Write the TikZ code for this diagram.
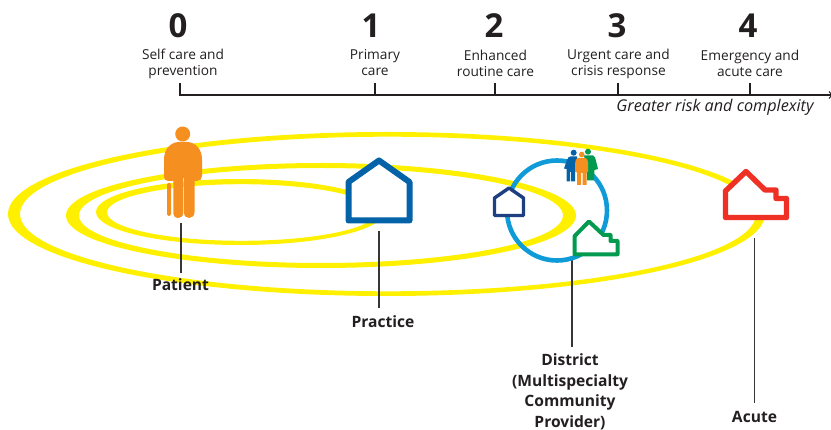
\documentclass[tikz,border=0pt]{standalone}
\usepackage{fontspec}
\setmainfont{Open Sans}
\definecolor{ring}{HTML}{FFF000}
\definecolor{pOrange}{HTML}{F58F20}
\definecolor{pBlue}{HTML}{0462A8}
\definecolor{pNavy}{HTML}{1E3F80}
\definecolor{pCyan}{HTML}{0F9BD7}
\definecolor{pGreen}{HTML}{019A4E}
\definecolor{pRed}{HTML}{EE3124}
\definecolor{ink}{HTML}{231F20}
\tikzset{
  levelnum/.style={font=\fontsize{33}{33}\selectfont\bfseries,text=ink,inner sep=0pt,anchor=center},
  levelcap/.style={font=\fontsize{13.7}{16}\selectfont,text=ink,inner sep=0pt,align=center,anchor=center},
  who/.style={font=\fontsize{15.6}{20.5}\selectfont\bfseries,text=ink,inner sep=0pt,align=center,anchor=center},
  axisline/.style={draw=ink,line width=2.2pt},
  leader/.style={draw=ink!90,line width=1.2pt},
  house/.style={fill=white,line join=round},
  crescent/.style={fill=ring,even odd rule,draw=none}
}
\begin{document}
\begin{tikzpicture}[x=1pt,y=-1pt]
\useasboundingbox (0,0) rectangle (831,430);
% rings
\fill[crescent] (386.5,214) ellipse [x radius=378.5,y radius=82] (388,214) ellipse [x radius=368,y radius=77.3];
\fill[crescent] (321,215.5) ellipse [x radius=255,y radius=52.5] (321,215.5) ellipse [x radius=242,y radius=47.5];
\fill[crescent] (240,212) ellipse [x radius=144,y radius=33] (241.5,212.5) ellipse [x radius=134.5,y radius=28.3];
% axis
\coordinate (a0) at (180,95);
\coordinate (aEnd) at (832,95);
\coordinate (tipA) at (829,91.5);
\coordinate (tipB) at (829,98.5);
\foreach \n/\x in {t0/180,t1/375,t2/495,t3/618,t4/750}{\coordinate (\n) at (\x,83);\coordinate (\n b) at (\x,95);\draw[axisline] (\n) -- (\n b);}
\draw[axisline,line cap=rect] (a0) -- (aEnd);
\draw[ink,line width=1pt] (tipA) -- (aEnd) -- (tipB);
\node[levelnum] (n0) at (178,26) {0};
\node[levelnum] (n1) at (371,26) {1};
\node[levelnum] (n2) at (494,26) {2};
\node[levelnum] (n3) at (617,26) {3};
\node[levelnum] (n4) at (748,26) {4};
\node[levelcap] (c0) at (183,63.5) {Self care and\\prevention};
\node[levelcap] (c1) at (375,63) {Primary\\care};
\node[levelcap] (c2) at (495.5,63.5) {Enhanced\\routine care};
\node[levelcap] (c3) at (618.5,63.5) {Urgent care and\\crisis response};
\node[levelcap] (c4) at (750,63.5) {Emergency and\\acute care};
\node[font=\fontsize{16.2}{18}\selectfont\itshape,text=ink,inner sep=0pt] (risk) at (715,107.5) {Greater risk and complexity};
% leaders
\coordinate (l1a) at (181,223); \coordinate (l1b) at (181,273);
\coordinate (l2a) at (379,231); \coordinate (l2b) at (379,308);
\coordinate (l3a) at (572,256); \coordinate (l3b) at (572,347);
\coordinate (l4a) at (754.5,238); \coordinate (l4b) at (754.5,403);
\draw[leader] (l1a) -- (l1b);
\draw[leader] (l2a) -- (l2b);
\draw[leader] (l3a) -- (l3b);
\draw[leader] (l4a) -- (l4b);
\node[who] (patient) at (180.5,285) {Patient};
\node[who] (practice) at (383,322) {Practice};
\node[who] (district) at (570,392) {District\\(Multispecialty\\Community\\Provider)};
\node[who] (acute) at (754.5,417) {Acute};
% circle
\draw[pCyan,line width=4.6pt] (557,210.5) circle (50);
% houses
\draw[house,draw=pBlue,line width=6pt] (379,160.5) -- (409.5,182) -- (409.5,220.5) -- (348.5,220.5) -- (348.5,182) -- cycle;
\draw[house,draw=pNavy,line width=3.4pt] (509,188) -- (523.5,198) -- (523.5,215.5) -- (494.5,215.5) -- (494.5,198) -- cycle;
\draw[house,draw=pGreen,line width=4pt] (589,221.5) -- (603.5,235) -- (610.5,235) -- (610.5,241) -- (617.5,241) -- (617.5,254.3) -- (574.7,254.3) -- (574.7,236) -- cycle;
\draw[house,draw=pRed,line width=5.4pt] (746,171.5) -- (765,190) -- (776,190) -- (776,198.5) -- (786.5,198.5) -- (786.5,217.5) -- (725.5,217.5) -- (725.5,191) -- cycle;
% patient figure
\fill[pOrange] (182.7,134) circle (7.5);
\fill[pOrange,rounded corners=1.5pt] (167,183) rectangle (171,216);
\fill[pOrange] (173.3,181) -- (168,181) .. controls (165,181) and (164,179) .. (164,176) -- (164,160) .. controls (164,149) and (170,143) .. (178,142) -- (188,142) .. controls (196,143) and (202,149) .. (202,160) -- (202,176) .. controls (202,179) and (200,181) .. (197,181) -- (194.5,181) -- (194.5,212) .. controls (194.5,216) and (192,218) .. (189,218) .. controls (186,218) and (184,216) .. (184,212) -- (184,178) -- (183.4,178) -- (183.4,212) .. controls (183.4,216) and (181,218) .. (178.5,218) .. controls (175,218) and (173.3,216) .. (173.3,212) -- cycle;
% small group
\fill[pGreen] (588,151.7) circle (3);
\fill[pGreen] (584,155.5) -- (593,155.5) .. controls (595,156) and (595.5,158) .. (596,161) -- (598,169) -- (594.5,170) -- (594,180.5) -- (587,180.5) -- (587,170) -- cycle;
\fill[pBlue] (573.7,152.7) circle (3);
\fill[pBlue] (570.5,156.5) -- (577,156.5) -- (577,171) -- (575,171) -- (575,181.5) -- (571,181.5) -- (571,172) -- (570,172) -- (570,181.5) -- (566.5,181.5) -- (566.5,169) -- (564,168.5) -- (567,160) .. controls (568,157.5) and (569,156.5) .. (570.5,156.5) -- cycle;
\fill[pOrange] (581.7,154.5) circle (2.8);
\fill[pOrange] (578,158) -- (585.5,158) .. controls (587,158.5) and (588,160) .. (588,163) -- (588,172) -- (586.5,172.5) -- (586.5,185) -- (582.5,185) -- (582.5,173) -- (581,173) -- (581,185) -- (577,185) -- (577,172.5) -- (575.2,172) -- (575.2,163) .. controls (575.2,160) and (576,158.5) .. (578,158) -- cycle;
\end{tikzpicture}
\end{document}
